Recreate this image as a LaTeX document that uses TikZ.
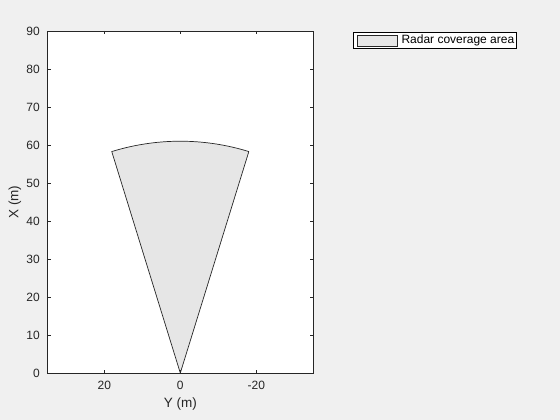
\documentclass[tikz,border=0pt]{standalone}
\usepackage{fontspec}
\setmainfont{Liberation Sans}
\usetikzlibrary{positioning}
\definecolor{figbg}{HTML}{F0F0F0}
\definecolor{axcol}{HTML}{262626}
\definecolor{patchfill}{HTML}{E6E6E6}

\begin{document}
\begin{tikzpicture}[x=1pt, y=1pt,
  axisline/.style={draw=axcol, line width=0.8pt},
  tickmark/.style={draw=axcol, line width=0.7pt},
  ticklabel/.style={text=axcol, font=\fontsize{12}{14}\selectfont, inner sep=0pt},
  axislabel/.style={text=axcol, font=\fontsize{13.5}{16}\selectfont, inner sep=0pt},
  coverage/.style={fill=patchfill, draw=black!85, line width=0.7pt, line join=round}]
  \fill[figbg] (0,0) rectangle (560,420);
  \useasboundingbox (0,0) rectangle (560,420);

  % axes in data units (Y across, X up)
  \begin{scope}[shift={(180.3,47)}, x=3.8pt, y=3.8pt]
    \fill[white] (-35,0) rectangle (35,90);
    \draw[coverage] (0,0) -- (107.2:61) arc[start angle=107.2, end angle=72.8, radius=61] -- cycle;
    \draw[axisline] (-35,0) rectangle (35,90);

    % X ticks (vertical axis)
    \foreach \v in {0,10,...,90} {
      \draw[tickmark] (-35,\v) -- ++(3.3pt,0);
      \draw[tickmark] (35,\v) -- ++(-3.3pt,0);
      \node[ticklabel, anchor=east] (xtick\v) at ([xshift=-7.3pt]-35,\v) {\v};
    }
    % Y ticks (horizontal axis, reversed)
    \foreach \v/\t [count=\i] in {-20/20, 0/0, 20/-20} {
      \draw[tickmark] (\v,0) -- ++(0,3.3pt);
      \draw[tickmark] (\v,90) -- ++(0,-3.3pt);
      \node[ticklabel, anchor=north] (ytick\i) at ([yshift=-8.3pt]\v,0) {\t};
    }

    \node[axislabel, rotate=90] (xlabel) at ([xshift=-32.3pt]-35,45) {X (m)};
    \node[axislabel] (ylabel) at ([yshift=-31pt]0,0) {Y (m)};
  \end{scope}

  % legend
  \node[draw=black, line width=0.8pt, fill=white, inner sep=0pt,
        minimum width=162.4pt, minimum height=16pt, anchor=north west] (legendbox) at (353.3,387.7) {};
  \node[draw=black!85, line width=0.6pt, fill=patchfill, inner sep=0pt,
        minimum width=40pt, minimum height=11.4pt, anchor=west] (legendpatch) at ([xshift=3.4pt]legendbox.west) {};
  \node[text=black, font=\fontsize{12}{14}\selectfont, inner sep=0pt, anchor=west]
        (legendtext) at ([xshift=4pt]legendpatch.east) {Radar coverage area};
\end{tikzpicture}
\end{document}
